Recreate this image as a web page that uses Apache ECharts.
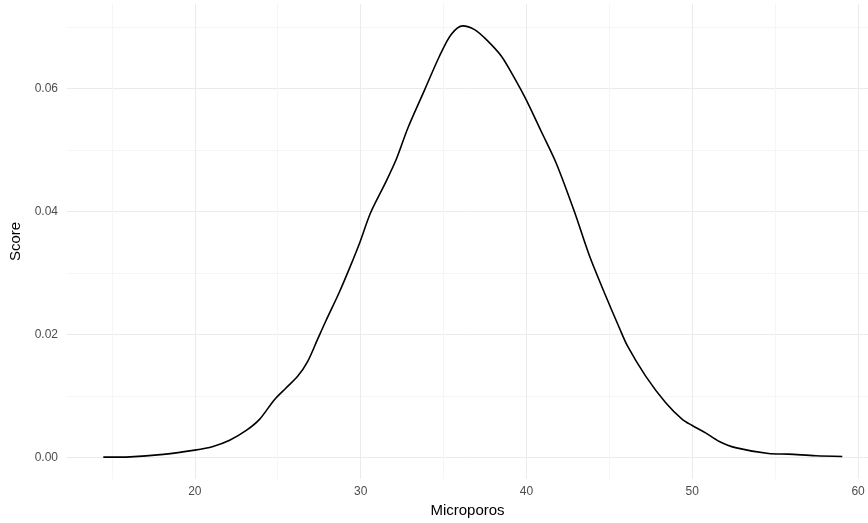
<!DOCTYPE html>
<html>
<head>
<meta charset="utf-8">
<script src="https://cdn.jsdelivr.net/npm/echarts@6/dist/echarts.min.js"></script>
<style>
  html, body { margin: 0; padding: 0; background: #fff; }
  #chart { width: 868px; height: 523px; }
</style>
</head>
<body>
<div id="chart"></div>
<script>
// density curve
const microporos = [14.48, 16.1, 18.1, 20.0, 21.1, 22.1, 23.1, 23.9, 24.8, 25.5, 26.2, 26.8, 27.4, 27.9, 28.7,
  29.3, 29.94, 30.6, 31.5, 32.15, 32.85, 33.86, 34.76, 35.46, 36.16, 36.87, 37.57, 38.48, 39.28, 39.98,
  40.88, 41.79, 42.89, 43.8, 44.7, 45.6, 46.1, 47.2, 48.4, 49.4, 50.0, 50.8, 51.6, 52.6, 54.6, 55.8, 57.45, 59.05]
const score = [0.00005, 0.0001, 0.0005, 0.0012, 0.0018, 0.0028, 0.0044, 0.0062, 0.0094, 0.0113, 0.0132, 0.0156, 0.0192, 0.0222, 0.0268,
  0.0306, 0.0349, 0.0398, 0.0447, 0.0485, 0.0536, 0.0598, 0.0653, 0.0688, 0.0702, 0.0696, 0.068, 0.0653, 0.0617, 0.0582,
  0.0531, 0.0479, 0.0400, 0.0328, 0.0268, 0.0211, 0.0181, 0.0132, 0.0089, 0.0062, 0.0052, 0.004, 0.00265, 0.0016, 0.00065, 0.00054, 0.00028, 0.00016]

const xTicks = [20, 30, 40, 50, 60]
const xGrid = [15, 20, 25, 30, 35, 40, 45, 50, 55, 60]
const yTicks = [0, 0.02, 0.04, 0.06]
const yGrid = [0, 0.01, 0.02, 0.03, 0.04, 0.05, 0.06, 0.07]

const chart = echarts.init(document.getElementById('chart'))
const font = "'Liberation Sans', Arial, sans-serif"

chart.setOption({
  backgroundColor: '#fff',
  animation: false,
  grid: { left: 67, right: 0, top: 4, bottom: 44, outerBoundsMode: 'none' },
  xAxis: {
    type: 'value',
    min: 12.29,
    max: 60.6,
    name: 'Microporos',
    nameLocation: 'middle',
    nameGap: 24,
    nameTextStyle: { color: '#000', fontSize: 15, fontFamily: font },
    axisLine: { show: false },
    axisTick: { show: false, customValues: xGrid },
    axisLabel: {
      customValues: xTicks,
      color: '#4d4d4d',
      fontSize: 12,
      fontFamily: font,
      margin: 7,
      formatter: v => String(v)
    },
    splitLine: { show: true, lineStyle: { color: ['#f5f5f5', '#ebebeb'], width: 1 } }
  },
  yAxis: {
    type: 'value',
    min: -0.0035,
    max: 0.07376,
    name: 'Score',
    nameLocation: 'middle',
    nameRotate: 90,
    nameGap: 41,
    nameTextStyle: { color: '#000', fontSize: 15, fontFamily: font },
    axisLine: { show: false },
    axisTick: { show: false, customValues: yGrid },
    axisLabel: {
      customValues: yTicks,
      color: '#4d4d4d',
      fontSize: 12,
      fontFamily: font,
      margin: 9,
      formatter: v => v.toFixed(2)
    },
    splitLine: { show: true, lineStyle: { color: ['#ebebeb', '#f5f5f5'], width: 1 } }
  },
  series: [{
    type: 'line',
    data: microporos.map((x, i) => [x, score[i]]),
    smooth: 0.3,
    showSymbol: false,
    lineStyle: { color: '#000', width: 1.6 }
  }]
})
</script>
</body>
</html>
